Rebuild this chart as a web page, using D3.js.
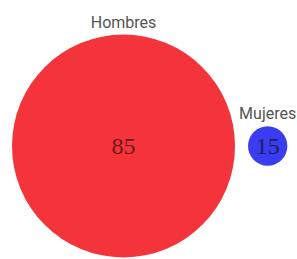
<!DOCTYPE html>
<html>
<head>
<meta charset="utf-8">
<script src="https://cdn.jsdelivr.net/npm/d3@7"></script>
<style>
	body { margin: 0; background: #fff; }
	svg { display: block; }
</style>
</head>
<body>
<div id="chart"></div>
<script>

// bubble chart data
var categories = ["Hombres", "Mujeres"];
var values = [85, 15];
var colors = ["#f5333b", "#3a3cef"];
var textColors = ["#6e1a1a", "#1c1f62"];

var width = 297, height = 259;
var left = 12, gap = 13, cy = 146;

var svg = d3.select("#chart").append("svg")
	.attr("width", width).attr("height", height);

// radius grows linearly with the value
var r = d3.scaleLinear().domain([0, 85]).range([0, 111.5]);

// put the circles next to each other, left to right
var xs = [];
var x = left;
values.forEach(function(v){
	xs.push(x + r(v));
	x += 2 * r(v) + gap;
});

var node = svg.selectAll(".bubble")
	.data(values)
	.enter().append("g")
	.attr("class", "bubble")
	.attr("transform", function(d, i){ return "translate(" + xs[i] + "," + cy + ")"; });

node.append("circle")
	.attr("r", function(d){ return r(d); })
	.attr("fill", function(d, i){ return colors[i]; });

node.append("text")
	.attr("text-anchor", "middle")
	.attr("dy", "0.35em")
	.attr("font-family", "'Liberation Serif', serif")
	.attr("font-size", 24)
	.attr("fill", function(d, i){ return textColors[i]; })
	.text(function(d){ return d; });

node.append("text")
	.attr("text-anchor", "middle")
	.attr("y", function(d){ return -r(d) - 7; })
	.attr("font-family", "Roboto, sans-serif")
	.attr("font-size", 16)
	.attr("fill", "#555")
	.text(function(d, i){ return categories[i]; });

</script>
</body>
</html>
